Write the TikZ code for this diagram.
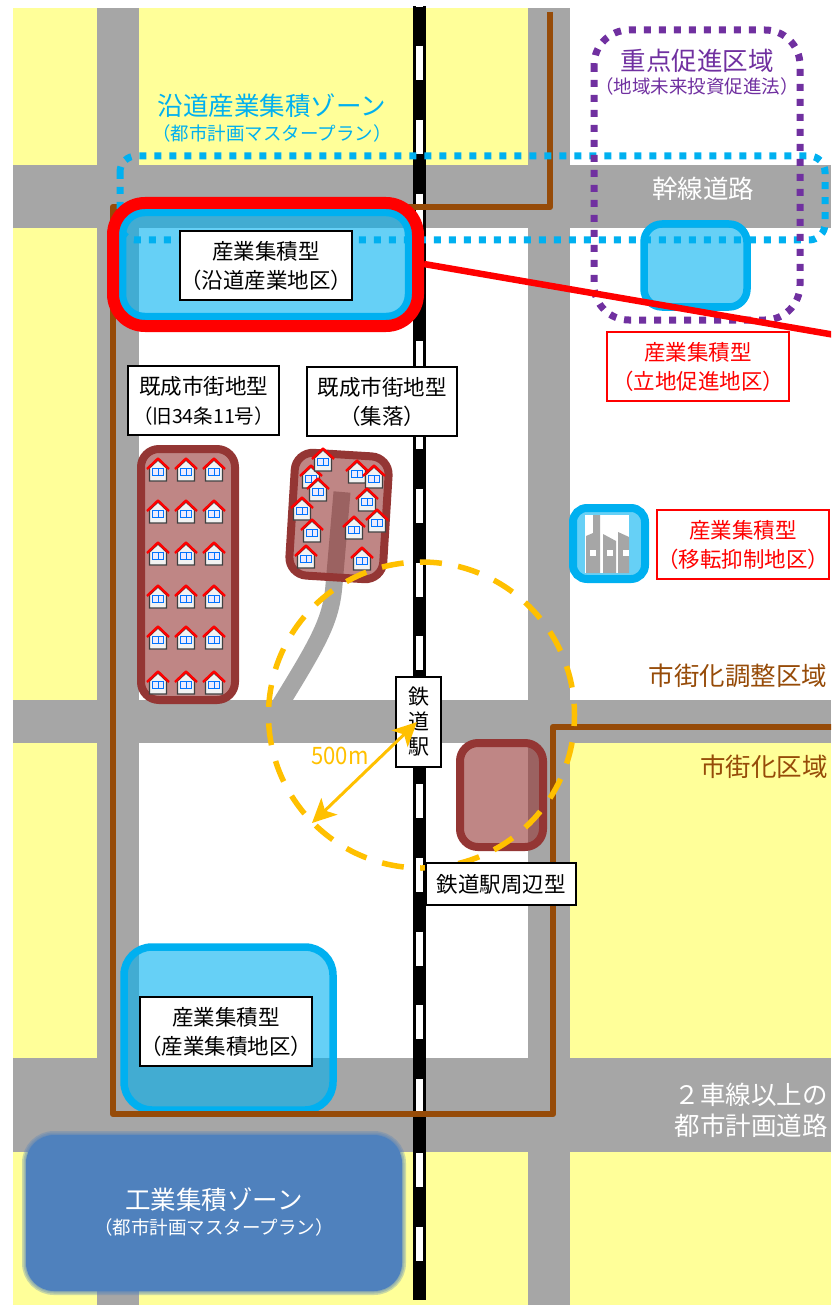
\documentclass[tikz,border=0pt]{standalone}
\usepackage{fontspec}
\setmainfont{Noto Sans CJK JP}
\usetikzlibrary{arrows.meta}
\definecolor{yel}{HTML}{FFFF99}
\definecolor{road}{HTML}{A6A6A6}
\definecolor{brownline}{HTML}{964B08}
\definecolor{cyanb}{HTML}{00B0F0}
\definecolor{purp}{HTML}{7030A0}
\definecolor{maroon}{HTML}{943634}
\definecolor{orng}{HTML}{FFC000}
\definecolor{zoneblue}{HTML}{4F81BD}
\newcommand{\fsz}[2]{\fontsize{#1}{#2}\selectfont}
\tikzset{
  x=1pt,y=-1pt,
  lbl/.style={draw=black,line width=1.3pt,fill=white,align=center,inner sep=0pt,font=\fsz{21.5}{29}},
  redlbl/.style={lbl,draw=red,text=red},
  bluezone/.style={draw=cyanb,line width=7.5pt,fill=cyanb,fill opacity=.6,draw opacity=1},
  marzone/.style={draw=maroon,line width=8pt,fill=maroon,fill opacity=.6,draw opacity=1},
  dots/.style={line width=7pt,dash pattern=on 7pt off 8pt},
  hut/.pic={
    \draw[fill=white!95!black,draw=black!75,line width=1.3pt] (-8.5,-2)--(0,-10)--(8.5,-2)--(8.5,11)--(-8.5,11)--cycle;
    \draw[fill=blue!8,draw=blue!55!cyan,line width=1pt] (-5.5,-2) rectangle (5.5,5);
    \draw[draw=blue!55!cyan,line width=1pt] (0,-2)--(0,5);
    \draw[red,line width=2.4pt,line join=round] (-11,-1)--(0,-11.5)--(11,-1);
  },
}
\begin{document}
\begin{tikzpicture}
\useasboundingbox (0,0) rectangle (831,1305);
\clip (0,0) rectangle (831,1305);
% yellow blocks
\fill[yel] (13,8) rectangle (528,165);
\fill[yel] (13,228) rectangle (97,1305);
\fill[yel] (13,1152) rectangle (528,1305);
\fill[yel] (570,743) rectangle (831,1305);
% roads
\fill[road] (97,8) rectangle (139,1305);
\fill[road] (528,8) rectangle (570,1305);
\fill[road] (13,165) rectangle (831,228);
\fill[road] (13,700) rectangle (831,743);
\fill[road] (13,1058) rectangle (831,1152);
\draw[road,line width=17pt] (342,492) -- (334,585) .. controls (331,620) and (320,640) .. (278,708);
% railway
\coordinate (railtop) at (419.5,6);
\coordinate (railbot) at (419.5,1300);
\draw[black,line width=13pt] (railtop) -- (railbot);
\draw[white,line width=7.5pt,dash pattern=on 34pt off 39.8pt,dash phase=33.8pt] (railtop) -- (railbot);
% bottom blue zone, then brown boundary
\draw[bluezone,rounded corners=28pt] (124,947) rectangle (333,1110);
\draw[brownline,line width=6.5pt,line join=round] (550,12) -- (550,207) -- (113,207) -- (113,1114) -- (553,1114) -- (553,727) -- (840,727);
% cyan dotted zone
\draw[cyanb,dots,rounded corners=16pt] (120,156) rectangle (825,240);
% top-left blue zone and right blue zone
\draw[bluezone,rounded corners=22pt] (122.5,212.5) rectangle (408.5,316.5);
\draw[bluezone,rounded corners=18pt] (644,224) rectangle (747,307);
% purple zone
\draw[purp,dots,rounded corners=35pt] (594,30) rectangle (800,320);
% factory
\draw[bluezone,line width=8pt,rounded corners=14pt] (573,508) rectangle (645,579);
\fill[white] (585,515) rectangle (629,573);
\fill[road] (586,536) -- (593,533) -- (593,515) -- (600,515) -- (600,573) -- (586,573) -- cycle;
\fill[road] (603,534) -- (616,541) -- (616,573) -- (603,573) -- cycle;
\fill[road] (618,532) -- (629,537) -- (629,573) -- (618,573) -- cycle;
\fill[white] (590,550) rectangle (596,556);
\fill[white] (607,550) rectangle (613,556);
\fill[white] (623,550) rectangle (629,556);
% maroon zones
\draw[marzone,rounded corners=18pt] (141,449) rectangle (235,700);
\begin{scope}[rotate around={-3.5:(339,516)}]
\draw[marzone,rounded corners=18pt] (292,454.5) rectangle (386,577.5);
\end{scope}
\draw[marzone,rounded corners=18pt] (460,743) rectangle (543,847);
% houses
\foreach \hx in {158,186,214}
  \foreach \hy in {470,512,554,597,638,683}
    \pic at (\hx,\hy) {hut};
\foreach \hx/\hy in {311/477,323/460,318/490,357/472,374/477,367/500,377/521,354/528,302/509,312/531,306/557,362/559}
  \pic at (\hx,\hy) {hut};
% big red frame and red leader
\draw[red,line width=12pt,rounded corners=32pt] (113,203) rectangle (418,326);
\coordinate (leadA) at (424,264);
\coordinate (leadB) at (835,335);
\draw[red,line width=6.5pt] (leadA) -- (leadB);
% 500 m circle
\draw[orng,line width=5.5pt,dash pattern=on 22pt off 16.45pt,dash phase=11pt] (421.5,715) circle [radius=153];
% industrial zone
\foreach \w in {8,5,2}
  \draw[zoneblue,line width=\w pt,opacity=.3,rounded corners=28pt] (26,1135) rectangle (402,1291);
\fill[zoneblue,rounded corners=28pt] (26,1135) rectangle (402,1291);
% labels
\node[lbl,minimum width=172pt,minimum height=69pt] (boxRoad) at (266,265.5) {産業集積型\\（沿道産業地区）};
\node[redlbl,minimum width=182pt,minimum height=69pt] (boxLocation) at (698,366.5) {産業集積型\\（立地促進地区）};
\node[lbl,minimum width=151pt,minimum height=69pt] (boxOld) at (203.5,400.5) {既成市街地型\\\fsz{19.5}{29}（旧34条11号）};
\node[lbl,minimum width=150pt,minimum height=69pt] (boxVillage) at (382,401.5) {既成市街地型\\（集落）};
\node[redlbl,minimum width=172pt,minimum height=69pt] (boxMove) at (743,544.5) {産業集積型\\（移転抑制地区）};
\node[lbl,minimum width=45pt,minimum height=90pt,font=\fsz{21}{25}] (boxStation) at (418.5,722) {鉄\\道\\駅};
\node[lbl,minimum width=150pt,minimum height=42pt] (boxAround) at (501,884) {鉄道駅周辺型};
\node[lbl,minimum width=172pt,minimum height=69pt] (boxIndustry) at (226,1031.5) {産業集積型\\（産業集積地区）};
% radius arrow
\coordinate (radA) at (417,722);
\coordinate (radB) at (312,823);
\draw[orng,line width=3pt,{Stealth[length=24pt,width=23pt,inset=6pt]}-{Stealth[length=24pt,width=23pt,inset=6pt]}] (radA) -- (radB);
\node[text=orng,font=\fsz{24}{28},xscale=.92] (t500) at (340,756) {500m};
% free text
\node[text=cyanb,font=\fsz{25.5}{30}] (t1) at (272,106) {沿道産業集積ゾーン};
\node[text=cyanb,font=\fsz{18.5}{22}] (t2) at (272,133) {（都市計画マスタープラン）};
\node[text=purp,font=\fsz{25.5}{30}] (t3) at (697,61) {重点促進区域};
\node[text=purp,font=\fsz{18.5}{22}] (t4) at (697,86) {（地域未来投資促進法）};
\node[text=white,font=\fsz{25.5}{30}] (t5) at (703,189) {幹線道路};
\node[text=brownline,font=\fsz{25.5}{30}] (t6) at (738,676) {市街化調整区域};
\node[text=brownline,font=\fsz{25.5}{30}] (t7) at (764,767) {市街化区域};
\node[text=white,font=\fsz{25.5}{31},align=center] (t8) at (751,1110) {２車線以上の\\都市計画道路};
\node[text=white,font=\fsz{25.5}{30}] (t9) at (214,1200) {工業集積ゾーン};
\node[text=white,font=\fsz{18.5}{22}] (t10) at (214,1227) {（都市計画マスタープラン）};
\end{tikzpicture}
\end{document}
